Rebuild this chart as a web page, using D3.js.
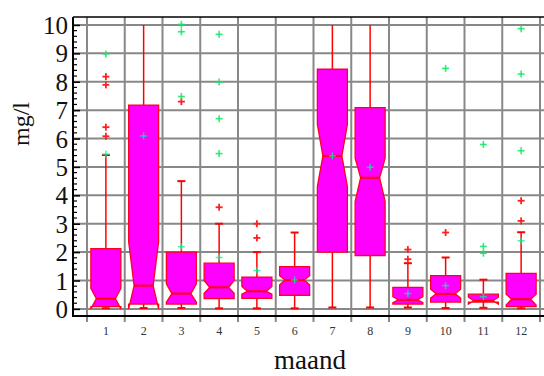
<!DOCTYPE html>
<html>
<head>
<meta charset="utf-8">
<script src="https://cdn.jsdelivr.net/npm/d3@7/dist/d3.min.js"></script>
<style>
  html, body { margin: 0; padding: 0; background: #fff; }
  svg { display: block; }
  svg text { font-family: "Liberation Serif", "DejaVu Serif", serif !important; }
</style>
</head>
<body>
<svg id="chart" width="544" height="376"></svg>
<script>
// Monthly concentrations (mg/l): notched box plot per month
const months    = [1, 2, 3, 4, 5, 6, 7, 8, 9, 10, 11, 12];
const whiskerLo = [0.02, 0.03, 0.03, 0.02, 0.02, 0.02, 0.05, 0.05, 0.05, 0.03, 0.04, 0.02];
const q1        = [0.08, 0.17, 0.17, 0.36, 0.37, 0.48, 2.00, 1.88, 0.17, 0.24, 0.24, 0.08];
const notchLo   = [0.00, 0.00, 0.24, 0.55, 0.52, 0.85, 4.31, 3.78, 0.22, 0.38, 0.17, 0.14];
const medians   = [0.36, 0.82, 0.54, 0.76, 0.62, 1.02, 5.39, 4.62, 0.32, 0.53, 0.29, 0.34];
const notchHi   = [0.72, 2.37, 0.88, 1.00, 0.79, 1.17, 6.50, 5.31, 0.43, 0.69, 0.41, 0.52];
const q3        = [2.12, 7.18, 2.00, 1.61, 1.12, 1.49, 8.44, 7.09, 0.76, 1.17, 0.52, 1.25];
const whiskerHi = [5.42, 12.0, 4.50, 3.00, 2.00, 2.69, 12.0, 12.0, 1.61, 1.81, 1.03, 2.70];
const means     = [5.45, 6.09, 2.19, 1.81, 1.35, 1.02, 5.39, 4.99, 0.54, 0.82, 0.43, 2.40];
const nearOutliers = [
  [6.08, 6.40, 7.89, 8.18], [], [7.30], [3.58], [2.50, 3.00], [],
  [], [], [1.75, 2.09], [2.69], [], [3.10, 3.81]
];
const farOutliers = [
  [8.98], [], [7.48, 9.76, 10.02], [5.47, 6.70, 7.99, 9.67], [], [],
  [], [], [], [8.47], [1.96, 2.20, 5.79], [5.57, 8.27, 9.87]
];
const yTicks = [0, 1, 2, 3, 4, 5, 6, 7, 8, 9, 10];

const serif = '"Liberation Serif", "DejaVu Serif", serif';
const svg = d3.select("#chart");
const plotL = 73, plotR = 544, plotT = 17, plotB = 316;

const x = d3.scaleBand().domain(months).range([87, 540]).padding(0);
const y = d3.scaleLinear().domain([-0.25, 10.28]).range([plotB, plotT]);

// grid
const grid = svg.append("g").attr("stroke", "#888").attr("stroke-width", 2);
grid.selectAll("line.h").data(yTicks).join("line").attr("class", "h")
  .attr("x1", plotL).attr("x2", plotR)
  .attr("y1", d => y(d)).attr("y2", d => y(d));
const bounds = months.map(m => x(m)).concat([x(months[months.length - 1]) + x.bandwidth()]);
grid.selectAll("line.v").data(bounds).join("line").attr("class", "v")
  .attr("x1", d => d).attr("x2", d => d)
  .attr("y1", plotT).attr("y2", plotB + 6);

// clip for the boxes and whiskers (top of range 10)
svg.append("clipPath").attr("id", "clip")
  .append("rect").attr("x", plotL).attr("y", y(10)).attr("width", plotR - plotL).attr("height", plotB - y(10));

const boxW = 30, indent = 5.5, capW = 8;
const stats = months.map((m, i) => ({
  m, wLo: whiskerLo[i], q1: q1[i], nLo: notchLo[i], med: medians[i],
  nHi: notchHi[i], q3: q3[i], wHi: whiskerHi[i], mean: means[i],
  near: nearOutliers[i], far: farOutliers[i]
}));

const boxes = svg.append("g").attr("clip-path", "url(#clip)");
const g = boxes.selectAll("g.box").data(stats).join("g").attr("class", "box")
  .attr("transform", d => `translate(${x(d.m) + x.bandwidth() / 2},0)`);

// whiskers
g.append("line").attr("x1", 0).attr("x2", 0)
  .attr("y1", d => y(d.q3)).attr("y2", d => y(d.wHi))
  .attr("stroke", "#ff0000").attr("stroke-width", 1.5);
g.append("line").attr("x1", 0).attr("x2", 0)
  .attr("y1", d => y(d.q1)).attr("y2", d => y(d.wLo))
  .attr("stroke", "#ff0000").attr("stroke-width", 1.5);
g.append("line").attr("x1", -capW / 2).attr("x2", capW / 2)
  .attr("y1", d => y(d.wHi)).attr("y2", d => y(d.wHi))
  .attr("stroke", "#ff0000").attr("stroke-width", 2);
g.append("line").attr("x1", -capW / 2).attr("x2", capW / 2)
  .attr("y1", d => y(d.wLo)).attr("y2", d => y(d.wLo))
  .attr("stroke", "#ff0000").attr("stroke-width", 2);

// notched box
const hw = boxW / 2;
g.append("path")
  .attr("d", d => {
    const p = [
      [-hw, y(d.q1)], [-hw, y(d.nLo)], [-hw + indent, y(d.med)], [-hw, y(d.nHi)], [-hw, y(d.q3)],
      [hw, y(d.q3)], [hw, y(d.nHi)], [hw - indent, y(d.med)], [hw, y(d.nLo)], [hw, y(d.q1)]
    ];
    return d3.line()(p) + "Z";
  })
  .attr("fill", "#ff00ff").attr("stroke", "#ff0022").attr("stroke-width", 1.3)
  .attr("stroke-linejoin", "miter");
g.append("line").attr("x1", -hw + indent).attr("x2", hw - indent)
  .attr("y1", d => y(d.med)).attr("y2", d => y(d.med))
  .attr("stroke", "#ff0000").attr("stroke-width", 2);

// plus markers
function plus(sel, color, sw) {
  sel.append("line").attr("x1", -3.5).attr("x2", 3.5).attr("y1", 0).attr("y2", 0)
    .attr("stroke", color).attr("stroke-width", sw);
  sel.append("line").attr("x1", 0).attr("x2", 0).attr("y1", -3.5).attr("y2", 3.5)
    .attr("stroke", color).attr("stroke-width", sw);
}
const marks = svg.append("g");
stats.forEach(d => {
  const cx = x(d.m) + x.bandwidth() / 2;
  d.near.forEach(v => {
    marks.append("g").attr("transform", `translate(${cx},${y(v)})`).call(plus, "#ff2020", 1.8);
  });
  d.far.forEach(v => {
    marks.append("g").attr("transform", `translate(${cx},${y(v)})`).call(plus, "rgba(20,230,100,0.85)", 1.6);
  });
  marks.append("g").attr("transform", `translate(${cx},${y(d.mean)})`).call(plus, "rgba(0,240,150,0.75)", 1.5);
});

// axes frame
svg.append("line").attr("x1", plotL).attr("x2", plotR).attr("y1", plotT).attr("y2", plotT)
  .attr("stroke", "#000").attr("stroke-width", 1.5);
svg.append("line").attr("x1", plotL).attr("x2", plotL).attr("y1", plotT).attr("y2", plotB + 1)
  .attr("stroke", "#000").attr("stroke-width", 2);
svg.append("line").attr("x1", plotL).attr("x2", plotR).attr("y1", plotB).attr("y2", plotB)
  .attr("stroke", "#000").attr("stroke-width", 2);

// y axis: major ticks, minor ticks and labels
const yAxis = d3.axisRight(y).tickValues(yTicks).tickSize(7).tickFormat(d3.format("d"));
const ya = svg.append("g").attr("transform", `translate(${plotL},0)`).call(yAxis)
  .attr("font-family", serif);
ya.select(".domain").remove();
ya.selectAll(".tick line").attr("stroke", "#000").attr("stroke-width", 1.5);
ya.selectAll(".tick text")
  .attr("x", -5).attr("text-anchor", "end").attr("dy", "0.34em")
  .attr("font-size", 25).attr("fill", "#111").attr("font-family", serif);
const minor = d3.range(0, 10.01, 0.2).filter(v => Math.abs(v - Math.round(v)) > 1e-6);
svg.append("g").selectAll("line").data(minor).join("line")
  .attr("x1", plotL).attr("x2", plotL + 4)
  .attr("y1", d => y(d)).attr("y2", d => y(d))
  .attr("stroke", "#000").attr("stroke-width", 1.2);

// x axis labels
const xAxis = d3.axisBottom(x).tickSize(0).tickPadding(0);
const xa = svg.append("g").attr("transform", `translate(0,${plotB})`).call(xAxis)
  .attr("font-family", serif);
xa.select(".domain").remove();
xa.selectAll(".tick text").attr("y", 19).attr("dy", 0)
  .attr("font-size", 12).attr("fill", "#333").attr("font-family", serif);

// titles
svg.append("text").attr("x", 310).attr("y", 369).attr("text-anchor", "middle")
  .attr("font-family", serif).attr("font-size", 27).attr("fill", "#111").text("maand");
svg.append("text").attr("transform", "translate(29,124) rotate(-90)").attr("text-anchor", "middle")
  .attr("font-family", serif).attr("font-size", 24).attr("fill", "#111").text("mg/l");
</script>
</body>
</html>
